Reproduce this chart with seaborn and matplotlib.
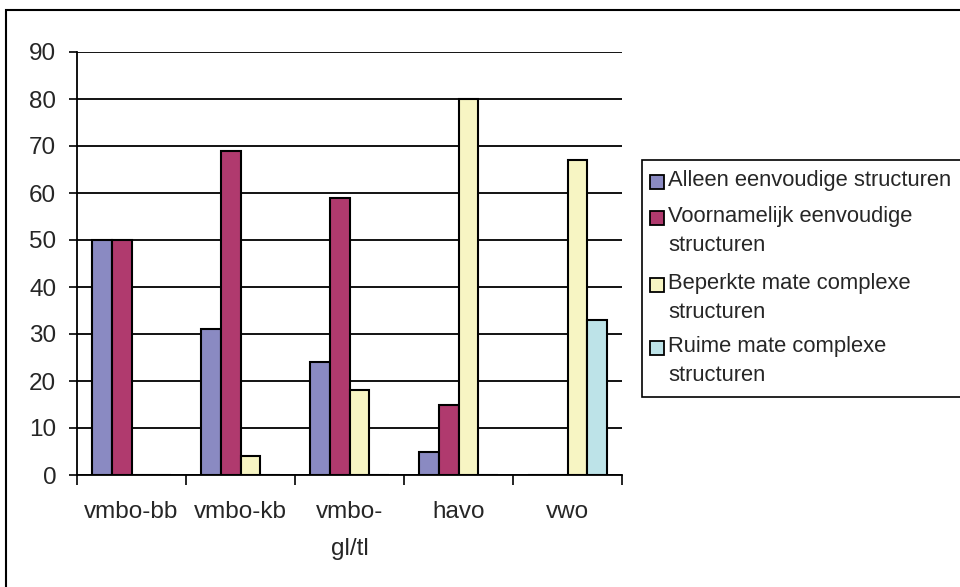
import numpy as np
import pandas as pd
import matplotlib
matplotlib.use("Agg")
import matplotlib.pyplot as plt
from matplotlib.patches import Rectangle
import seaborn as sns

# data (percentages per school type)
groups = ["vmbo-bb", "vmbo-kb", "vmbo-gl/tl", "havo", "vwo"]
group_labels = ["vmbo-bb", "vmbo-kb", "vmbo-\ngl/tl", "havo", "vwo"]
series = ["Alleen eenvoudige structuren",
          "Voornamelijk eenvoudige structuren",
          "Beperkte mate complexe structuren",
          "Ruime mate complexe structuren"]
legend_labels = ["Alleen eenvoudige structuren",
                 "Voornamelijk eenvoudige\nstructuren",
                 "Beperkte mate complexe\nstructuren",
                 "Ruime mate complexe\nstructuren"]
alleen = [50, 31, 24, 5, 0]
voornamelijk = [50, 69, 59, 15, 0]
beperkt = [0, 4, 18, 80, 67]
ruim = [0, 0, 0, 0, 33]
colors = ["#8a8ac2", "#b03a6e", "#f7f5c3", "#bde3e8"]

rows = []
for name, vals in zip(series, [alleen, voornamelijk, beperkt, ruim]):
    for g, v in zip(groups, vals):
        rows.append({"groep": g, "reeks": name, "pct": v})
df = pd.DataFrame(rows)

sns.set_style("white")
plt.rcParams["font.family"] = ["Liberation Sans", "DejaVu Sans"]
FS = 17.5
LFS = 15.8

fig = plt.figure(figsize=(9.6, 5.87), dpi=100)
ax = fig.add_axes([77 / 960, 1 - 475 / 587, 545 / 960, 423 / 587])

sns.barplot(data=df, x="groep", y="pct", hue="reeks", order=groups,
            hue_order=series, palette=colors, saturation=1, width=0.73,
            edgecolor="black", linewidth=1.5, legend=False, ax=ax,
            zorder=3)

ax.set_ylim(0, 90)
ax.set_xlim(-0.5, len(groups) - 0.5)
ax.set_yticks(np.arange(0, 91, 10))
ax.yaxis.grid(True, color="black", linewidth=1.3, zorder=0)
ax.set_axisbelow(True)
ax.set_xlabel("")
ax.set_ylabel("")

# ticks between groups, labels centred under groups
ax.set_xticks(np.arange(-0.5, len(groups), 1.0))
ax.set_xticklabels([])
ax.set_xticks(np.arange(len(groups)), minor=True)
ax.set_xticklabels(group_labels, minor=True, fontsize=FS, linespacing=1.85,
                   va="top")
ax.tick_params(axis="x", which="major", direction="out", length=7,
               width=1.2, color="black", bottom=True)
ax.tick_params(axis="x", which="minor", length=0, pad=19)
ax.tick_params(axis="y", direction="out", length=6, width=1.2,
               color="black", left=True, labelsize=FS, pad=9)

for side in ["top", "right"]:
    ax.spines[side].set_visible(False)
for side in ["left", "bottom"]:
    ax.spines[side].set_color("black")
    ax.spines[side].set_linewidth(1.3)

# outer chart border (cropped on right and bottom)
fig.add_artist(Rectangle((6 / 960, -0.05), 1.1, 1 - 10 / 587 + 0.05,
                         transform=fig.transFigure, fill=False,
                         edgecolor="black", linewidth=1.5))

# legend box, drawn like the Excel one
fig.add_artist(Rectangle((642 / 960, 1 - 397 / 587), 0.5, 237 / 587,
                         transform=fig.transFigure, facecolor="white",
                         edgecolor="black", linewidth=1.2))
entry_y = [182, 218, 285, 348]
for lab, col, yy in zip(legend_labels, colors, entry_y):
    fig.add_artist(Rectangle((650 / 960, 1 - (yy + 7) / 587), 14 / 960,
                             14 / 587, transform=fig.transFigure,
                             facecolor=col, edgecolor="black",
                             linewidth=1.3))
    fig.text(668 / 960, 1 - (yy - 12) / 587, lab, fontsize=LFS, va="top",
             ha="left", linespacing=1.5)

fig.savefig("out.png", dpi=100)
